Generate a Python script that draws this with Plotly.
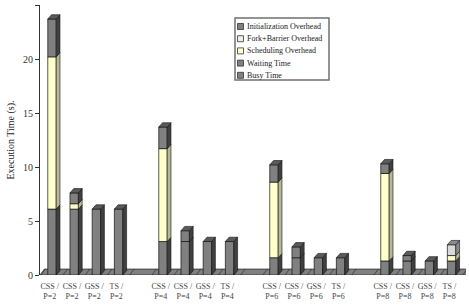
import plotly.graph_objects as go

# ---- data ----
group_labels = ["P=2", "P=4", "P=6", "P=8"]
method_labels = ["CSS /", "CSS /", "GSS /", "TS /"]
y_ticks = [0, 5, 10, 15, 20, 25]

busy_time = [6.1, 6.1, 6.1, 6.1, 3.1, 3.1, 3.1, 3.1, 1.6, 1.6, 1.6, 1.6, 1.3, 1.3, 1.3, 1.3]
waiting_time = [0, 0, 0, 0, 0, 0, 0, 0, 0, 0, 0, 0, 0, 0, 0, 0]
scheduling_overhead = [14.1, 0.5, 0, 0, 8.6, 0, 0, 0, 7.0, 0, 0, 0, 8.1, 0, 0, 0.5]
fork_barrier_overhead = [0, 0, 0, 0, 0, 0, 0, 0, 0, 0, 0, 0, 0, 0, 0, 1.0]
init_overhead = [3.5, 1.0, 0, 0, 2.0, 1.0, 0, 0, 1.6, 1.0, 0, 0, 0.9, 0.5, 0, 0]

series = [
    ("Busy Time", busy_time, "#808080", "#404040"),
    ("Waiting Time", waiting_time, "#808080", "#404040"),
    ("Scheduling Overhead", scheduling_overhead, "#ffffcc", "#b8b890"),
    ("Fork+Barrier Overhead", fork_barrier_overhead, "#d9d9d9", "#8a8a8a"),
    ("Initialization Overhead", init_overhead, "#808080", "#404040"),
]

FONT = "Liberation Serif, Times New Roman, serif"
xpos = [g * 5 + i for g in range(len(group_labels)) for i in range(len(method_labels))]
labels = [f"{m}<br>{g}" for g in group_labels for m in method_labels]

W = 0.38      # bar width (slots)
DX = 0.17     # 3-D depth in x (slots)
DY = 0.40     # 3-D depth in y (data units)
XMIN, XMAX = -0.54, 18.65

fig = go.Figure()
shapes = []

# floor
floor_end = xpos[-1] + 0.6
shapes.append(dict(type="path", xref="x", yref="y", layer="below",
                   path=f"M {XMIN},0 L {floor_end},0 L {floor_end+0.2},0.55 L {XMIN+0.2},0.55 Z",
                   fillcolor="#808080", line=dict(color="#222", width=0.7)))
for k in range(20):
    b = k - 0.5
    if XMIN < b < floor_end:
        shapes.append(dict(type="line", xref="x", yref="y", layer="below",
                           x0=b, y0=0, x1=b + 0.2, y1=0.55, line=dict(color="#222", width=0.6)))

bases = [0.0] * len(xpos)
tops = [sum(s[1][i] for s in series) for i in range(len(xpos))]
for name, vals, col, side in series:
    yv = [v if v > 0 else None for v in vals]
    fig.add_trace(go.Bar(x=xpos, y=yv, base=bases[:], width=W, name=name,
                         marker=dict(color=col, line=dict(color="#111", width=0.7)),
                         showlegend=False, hoverinfo="skip"))
    for i, v in enumerate(vals):
        if v > 0:
            xr = xpos[i] + W / 2
            y0, y1 = bases[i], bases[i] + v
            shapes.append(dict(type="path", xref="x", yref="y",
                               path=f"M {xr},{y0} L {xr+DX},{y0+DY} L {xr+DX},{y1+DY} L {xr},{y1} Z",
                               fillcolor=side, line=dict(color="#111", width=0.6)))
            if abs(y1 - tops[i]) < 1e-9:
                xl = xpos[i] - W / 2
                shapes.append(dict(type="path", xref="x", yref="y",
                                   path=f"M {xl},{y1} L {xl+DX},{y1+DY} L {xr+DX},{y1+DY} L {xr},{y1} Z",
                                   fillcolor="#5a5a5a" if col == "#808080" else side,
                                   line=dict(color="#111", width=0.6)))
        bases[i] += v

# custom legend (pixel -> paper)
def px(x):
    return (x - 40) / 426

def py(y):
    return (275 - y) / 270

shapes.append(dict(type="rect", xref="paper", yref="paper", x0=px(235), x1=px(329), y0=py(80), y1=py(18),
                   fillcolor="white", line=dict(color="#707070", width=1.5)))
annotations = []
for j, (name, vals, col, side) in enumerate(reversed(series)):
    cy = 26.5 + j * 12.2
    shapes.append(dict(type="rect", xref="paper", yref="paper", x0=px(237.5), x1=px(243.5),
                       y0=py(cy + 3), y1=py(cy - 3), fillcolor=col if name != "Fork+Barrier Overhead" else "#eeeeee",
                       line=dict(color="#333", width=0.8)))
    annotations.append(dict(xref="paper", yref="paper", x=px(245), y=py(cy), text=name, showarrow=False,
                            xanchor="left", yanchor="middle", font=dict(family=FONT, size=8, color="#222")))

fig.update_layout(
    width=469, height=305, barmode="overlay",
    margin=dict(l=40, r=3, t=5, b=30),
    paper_bgcolor="white", plot_bgcolor="white",
    shapes=shapes, annotations=annotations,
    font=dict(family=FONT, color="#222"),
    xaxis=dict(range=[XMIN, XMAX], tickmode="array", tickvals=[x - 0.1 for x in xpos], ticktext=labels,
               showgrid=False, zeroline=False, showline=False, ticks="",
               tickfont=dict(family=FONT, size=8, color="#444"), ticklabelstandoff=5),
    yaxis=dict(range=[0, 25], tickvals=y_ticks, showgrid=False, zeroline=False,
               showline=True, linecolor="#333", linewidth=1, ticks="outside", ticklen=4, tickcolor="#333",
               tickfont=dict(family=FONT, size=10, color="#333"),
               title=dict(text="Execution Time (s).", font=dict(family=FONT, size=10, color="#222"), standoff=6)),
)

fig.write_html("out.html")
